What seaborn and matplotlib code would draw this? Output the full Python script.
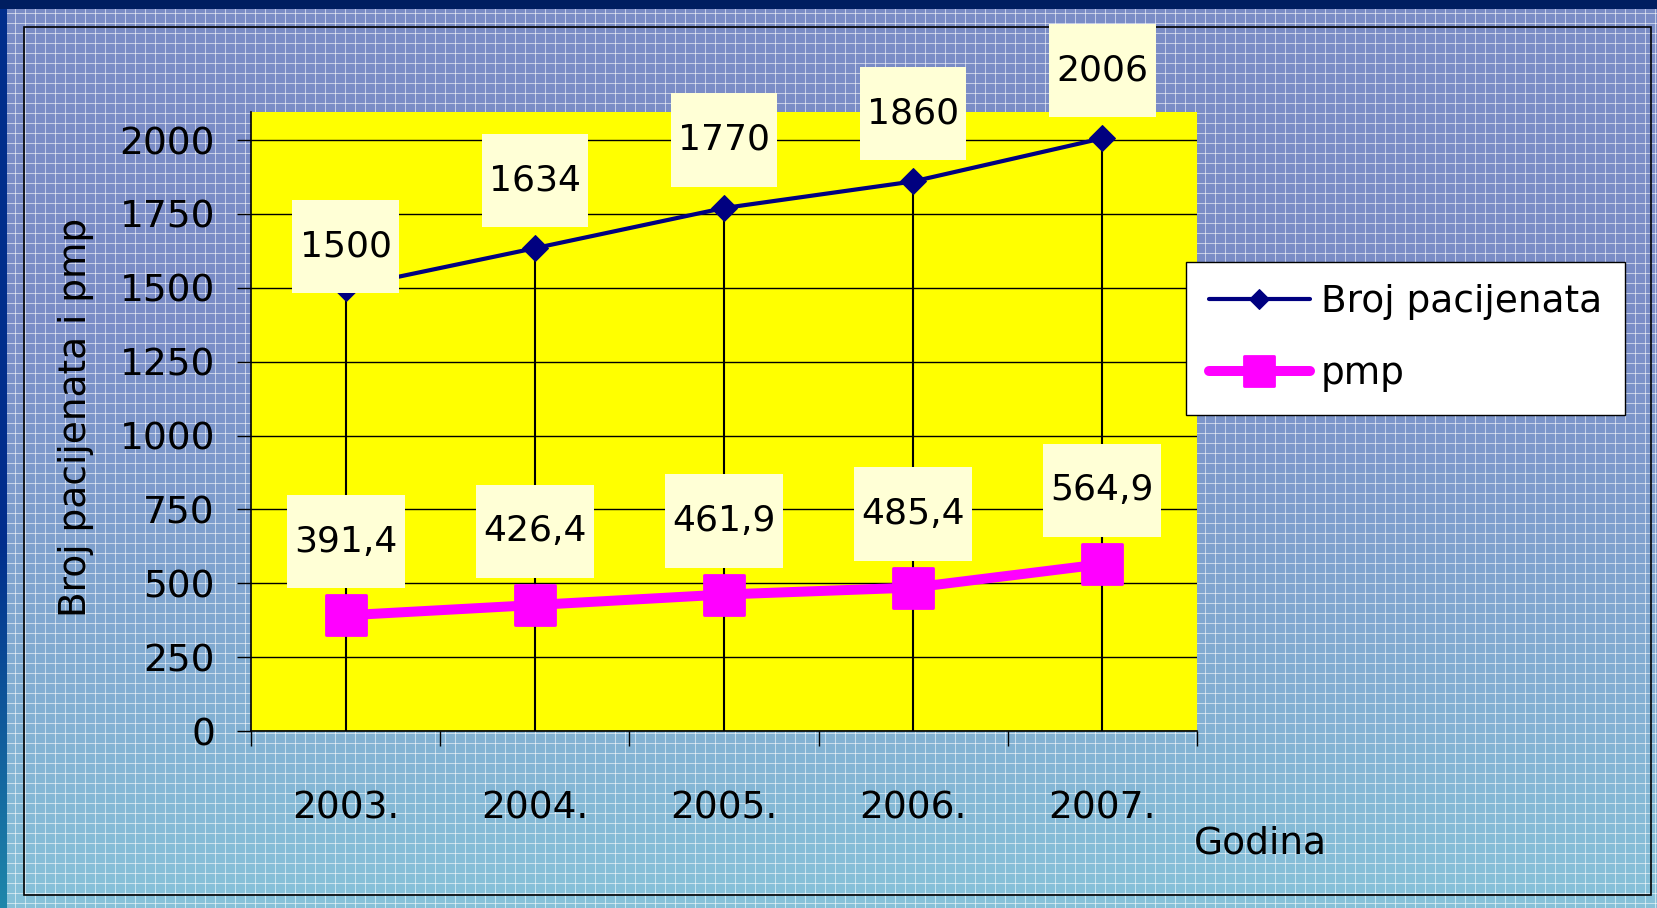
import numpy as np
import pandas as pd
import matplotlib
matplotlib.use('Agg')
import matplotlib.pyplot as plt
from matplotlib.path import Path
from matplotlib.patches import Rectangle
from matplotlib.markers import MarkerStyle
import seaborn as sns

# Chart data
godine = ['2003.', '2004.', '2005.', '2006.', '2007.']
broj_pacijenata = [1500, 1634, 1770, 1860, 2006]
pmp = [391.4, 426.4, 461.9, 485.4, 564.9]

# label offsets (points above the marker)
broj_offsets = [29.5, 49, 49, 49, 49]
pmp_offsets = [53, 53, 53, 53, 53]

W, H = 1657, 908

sns.set_style('ticks')
plt.rcParams['font.family'] = ['DejaVu Sans']
plt.rcParams['font.size'] = 27
for key in ['text.color', 'axes.labelcolor', 'xtick.color', 'ytick.color']:
    plt.rcParams[key] = 'black'

df = pd.DataFrame({'x': np.arange(len(godine)), 'broj': broj_pacijenata, 'pmp': pmp})


def label_box(x0, y0, width, height, mutation_size):
    """Rectangle padded more vertically than horizontally (Excel style labels)"""
    px = 0.2 * mutation_size
    py = 0.82 * mutation_size
    return Path([(x0 - px, y0 - py), (x0 + width + px, y0 - py),
                 (x0 + width + px, y0 + height + py), (x0 - px, y0 + height + py),
                 (x0 - px, y0 - py)], closed=True)


fig = plt.figure(figsize=(W / 100, H / 100), dpi=100)

# slide-like background: gradient with white grid pattern
ax_bg = fig.add_axes([0, 0, 1, 1], zorder=-1)
t = np.linspace(0, 1, H)[:, None, None]
s = np.clip((t - 0.35) / 0.65, 0, 1)
top = np.array([0.48, 0.55, 0.78])
bottom = np.array([0.53, 0.76, 0.85])
img = top * (1 - s) + bottom * s
img = np.repeat(img, W, axis=1)
rows = (np.arange(H) % 10 == 3)
cols = (np.arange(W) % 10 == 5)
img[rows, :, :] = img[rows, :, :] * 0.45 + 0.55
img[:, cols, :] = img[:, cols, :] * 0.45 + 0.55
# dark band on left and top
ls = np.clip((np.linspace(0, 1, H) - 0.6) / 0.4, 0, 1)[:, None]
img[:, :7, :] = (np.array([0.0, 0.18, 0.55]) * (1 - ls) + np.array([0.12, 0.53, 0.67]) * ls)[:, None, :]
img[:9, :, :] = np.array([0.0, 0.12, 0.38])
ax_bg.imshow(img, extent=(0, W, H, 0), aspect='auto', interpolation='nearest')
ax_bg.add_patch(Rectangle((24, 27), 1627, 868, fill=False, edgecolor='black', lw=1.2))
ax_bg.set_xlim(0, W)
ax_bg.set_ylim(H, 0)
ax_bg.axis('off')

# main plot area
ax = fig.add_axes([251 / W, 1 - 731 / H, 946 / W, 619 / H])
ax.set_facecolor('#FFFF00')

ax.vlines(df['x'], 0, df['broj'], color='black', lw=1.5, zorder=1.5)

sns.lineplot(data=df, x='x', y='broj', ax=ax, color='#000080', lw=3,
             marker='D', markersize=13, markeredgecolor='#000080',
             label='Broj pacijenata', zorder=3)
sns.lineplot(data=df, x='x', y='pmp', ax=ax, color='#FF00FF', lw=7.2,
             marker=MarkerStyle('s', joinstyle='round'), markersize=29,
             markeredgecolor='#FF00FF', markeredgewidth=2,
             solid_joinstyle='round', label='pmp', zorder=3)

for x, v, off in zip(df['x'], broj_pacijenata, broj_offsets):
    ax.annotate(str(v), xy=(x, v), xytext=(0, off), textcoords='offset points',
                ha='center', va='center', fontsize=26, zorder=5,
                bbox=dict(boxstyle=label_box, fc='#FFFFD6', ec='none'))
for x, v, off in zip(df['x'], pmp, pmp_offsets):
    ax.annotate(f'{v:.1f}'.replace('.', ','), xy=(x, v), xytext=(0, off),
                textcoords='offset points', ha='center', va='center',
                fontsize=26, zorder=5,
                bbox=dict(boxstyle=label_box, fc='#FFFFD6', ec='none'))

ax.set_xlim(-0.5, len(godine) - 0.5)
ax.set_ylim(0, 2095)
ax.set_yticks(np.arange(0, 2001, 250))
ax.yaxis.grid(True, color='black', lw=1)
ax.set_axisbelow(True)

ax.set_xticks(df['x'])
ax.set_xticklabels(godine)
ax.set_xticks(np.arange(-0.5, len(godine)), minor=True)
ax.tick_params(axis='x', which='major', length=0, pad=43, labelsize=27)
ax.tick_params(axis='x', which='minor', length=11, width=1, color='black', direction='out')
ax.tick_params(axis='y', length=10, width=1, pad=16, labelsize=27, color='black')

for side in ['top', 'right']:
    ax.spines[side].set_visible(False)
for side in ['left', 'bottom']:
    ax.spines[side].set_color('black')
    ax.spines[side].set_linewidth(1.2)

ax.set_xlabel('Godina', fontsize=27, ha='left', va='center')
ax.xaxis.set_label_coords(0.997, -0.181)
ax.set_ylabel('Broj pacijenata i pmp', fontsize=27, va='center')
ax.yaxis.set_label_coords(-0.185, 0.507)

leg = ax.legend(loc='upper left', bbox_to_anchor=(1186 / W, 1 - 262 / H),
                bbox_transform=fig.transFigure, fontsize=27, frameon=True,
                fancybox=False, shadow=False, framealpha=1, edgecolor='black',
                handlelength=2.7, handletextpad=0.3, labelspacing=0.95,
                borderpad=0.6, borderaxespad=0, markerscale=0.75)
leg.get_frame().set_linewidth(1)

fig.savefig('out.png', dpi=100)
